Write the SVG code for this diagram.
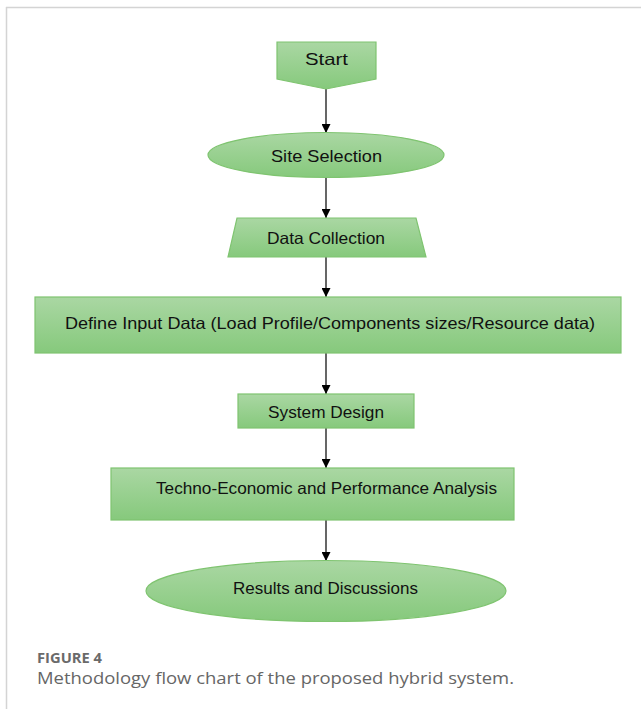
<svg xmlns="http://www.w3.org/2000/svg" width="641" height="709" viewBox="0 0 641 709">
<defs>
<linearGradient id="g" x1="0" y1="0" x2="0" y2="1">
<stop offset="0" stop-color="#aad7a3"/>
<stop offset="1" stop-color="#86c97c"/>
</linearGradient>
<marker id="ah" viewBox="0 0 10 10" refX="10" refY="5" markerWidth="9" markerHeight="9" markerUnits="userSpaceOnUse" orient="auto">
<path d="M0,0 L10,5 L0,10 Z" fill="#000"/>
</marker>
<style>
.n{fill:url(#g);stroke:#7fc470;stroke-width:1.2}
.t{font-family:"Liberation Sans","DejaVu Sans",sans-serif;font-size:16.5px;fill:#111;text-anchor:middle;dominant-baseline:central}
.c{stroke:#000;stroke-width:1.2;fill:none;marker-end:url(#ah)}
.cap1{font-family:"Open Sans","Noto Sans",sans-serif;font-size:14px;font-weight:bold;fill:#6a6a6a}
.cap2{font-family:"Open Sans","Noto Sans",sans-serif;font-size:17px;fill:#666}
</style>
</defs>
<rect width="641" height="709" fill="#fff"/>
<g id="frame">
<line x1="6" y1="7.5" x2="641" y2="7.5" stroke="#d4d4d4" stroke-width="1.5"/>
<line x1="6.5" y1="7" x2="6.5" y2="709" stroke="#d4d4d4" stroke-width="1.5"/>
</g>
<g id="connectors">
<line class="c" x1="326" y1="89" x2="326" y2="133"/>
<line class="c" x1="326" y1="177" x2="326" y2="218"/>
<line class="c" x1="326" y1="257" x2="326" y2="297"/>
<line class="c" x1="326" y1="353" x2="326" y2="394"/>
<line class="c" x1="326" y1="428" x2="326" y2="468"/>
<line class="c" x1="326" y1="520" x2="326" y2="561"/>
</g>
<g id="start">
<path class="n" d="M277,42 H376 V79 L326,89 L277,79 Z"/>
<text class="t" x="326.5" y="59" textLength="43" lengthAdjust="spacingAndGlyphs">Start</text>
</g>
<g id="site-selection">
<ellipse class="n" cx="326" cy="155" rx="118" ry="22.5"/>
<text class="t" x="326.5" y="156" textLength="111" lengthAdjust="spacingAndGlyphs">Site Selection</text>
</g>
<g id="data-collection">
<path class="n" d="M237,218 H416 L426,257 H228 Z"/>
<text class="t" x="326" y="238" textLength="118" lengthAdjust="spacingAndGlyphs">Data Collection</text>
</g>
<g id="define-input">
<rect class="n" x="35" y="297" width="586" height="56"/>
<text class="t" x="330" y="323" textLength="530" lengthAdjust="spacingAndGlyphs">Define Input Data (Load Profile/Components sizes/Resource data)</text>
</g>
<g id="system-design">
<rect class="n" x="238" y="394" width="176" height="34"/>
<text class="t" x="326" y="412" textLength="116" lengthAdjust="spacingAndGlyphs">System Design</text>
</g>
<g id="analysis">
<rect class="n" x="111" y="468" width="403" height="52"/>
<text class="t" x="326.5" y="488" textLength="341" lengthAdjust="spacingAndGlyphs">Techno-Economic and Performance Analysis</text>
</g>
<g id="results">
<ellipse class="n" cx="326" cy="591" rx="180" ry="30.5"/>
<text class="t" x="325.5" y="588" textLength="185" lengthAdjust="spacingAndGlyphs">Results and Discussions</text>
</g>
<g id="caption">
<text class="cap1" x="37" y="663" textLength="65" lengthAdjust="spacingAndGlyphs">FIGURE 4</text>
<text class="cap2" x="37" y="684" textLength="477" lengthAdjust="spacingAndGlyphs">Methodology flow chart of the proposed hybrid system.</text>
</g>
</svg>
